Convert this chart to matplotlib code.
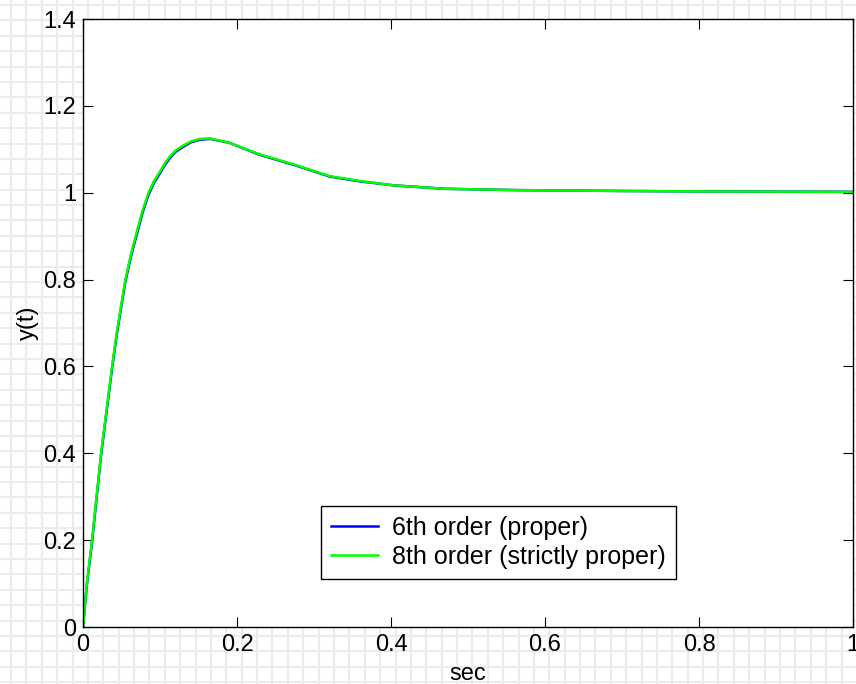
import numpy as np
import matplotlib
matplotlib.use("Agg")
import matplotlib.pyplot as plt

plt.rcParams['font.family'] = ['Liberation Sans', 'DejaVu Sans']

t_6th = [0, 0.0052, 0.0117, 0.0234, 0.0377, 0.044, 0.055, 0.0625, 0.070, 0.0775,
         0.085, 0.0925, 0.1004, 0.106, 0.113, 0.12, 0.1286, 0.140, 0.152, 0.165,
         0.19, 0.23, 0.274, 0.321, 0.36, 0.403, 0.47, 0.564, 0.70, 0.804, 1.0]
y_6th = [0, 0.100, 0.195, 0.395, 0.595, 0.675, 0.795, 0.855, 0.905, 0.955,
         0.995, 1.024, 1.046, 1.063, 1.080, 1.094, 1.104, 1.116, 1.122, 1.124,
         1.115, 1.087, 1.064, 1.037, 1.026, 1.017, 1.009, 1.006, 1.004, 1.003, 1.002]

t_8th = [0, 0.0052, 0.0117, 0.0234, 0.0377, 0.044, 0.055, 0.0625, 0.070, 0.0775,
         0.085, 0.0925, 0.1004, 0.106, 0.113, 0.12, 0.1286, 0.140, 0.152, 0.165,
         0.19, 0.23, 0.274, 0.321, 0.36, 0.403, 0.47, 0.564, 0.70, 0.804, 1.0]
y_8th = [0, 0.104, 0.200, 0.400, 0.600, 0.680, 0.800, 0.860, 0.911, 0.960,
         1.000, 1.028, 1.050, 1.067, 1.084, 1.097, 1.107, 1.118, 1.124, 1.125,
         1.115, 1.088, 1.065, 1.038, 1.027, 1.017, 1.009, 1.006, 1.004, 1.003, 1.002]

labels = ['6th order (proper)', '8th order (strictly proper)']
x_ticks = [0, 0.2, 0.4, 0.6, 0.8, 1]
y_ticks = [0, 0.2, 0.4, 0.6, 0.8, 1, 1.2, 1.4]

W, H = 856, 684
fig = plt.figure(figsize=(W / 100, H / 100), dpi=100)

# grid paper behind the plot
bg = fig.add_axes([0, 0, 1, 1])
bg.set_xlim(0, W)
bg.set_ylim(H, 0)
bg.axis('off')
for gx in np.arange(11, W, 15.38):
    bg.axvline(gx, color='#ececec', lw=1.5)
for gy in np.arange(5, H, 15.39):
    bg.axhline(gy, color='#ececec', lw=1.5)

ax = fig.add_axes([83 / W, (H - 627) / H, 770 / W, 608 / H])
ax.set_facecolor('white')
ax.plot(t_6th, y_6th, color='#0000ff', lw=1.8, label=labels[0])
ax.plot(t_8th, y_8th, color='#00ff00', lw=1.8, label=labels[1])

ax.set_xlim(0, 1)
ax.set_ylim(0, 1.4)
ax.set_xticks(x_ticks)
ax.set_xticklabels(['0', '0.2', '0.4', '0.6', '0.8', '1'])
ax.set_yticks(y_ticks)
ax.set_yticklabels(['0', '0.2', '0.4', '0.6', '0.8', '1', '1.2', '1.4'])
ax.tick_params(direction='in', length=7, width=0.8, labelsize=17,
               top=True, right=True, pad=5)
for s in ax.spines.values():
    s.set_linewidth(1.0)
ax.set_xlabel('sec', fontsize=17, labelpad=5)
ax.set_ylabel('y(t)', fontsize=17, labelpad=3)

leg = ax.legend(loc='lower left', bbox_to_anchor=(0.309, 0.079), borderaxespad=0,
                fontsize=18, fancybox=False, framealpha=1, edgecolor='black',
                handlelength=1.9, handletextpad=0.55, borderpad=0.4,
                labelspacing=0.2)
leg.get_frame().set_linewidth(1.0)

fig.savefig('out.png', dpi=100)
